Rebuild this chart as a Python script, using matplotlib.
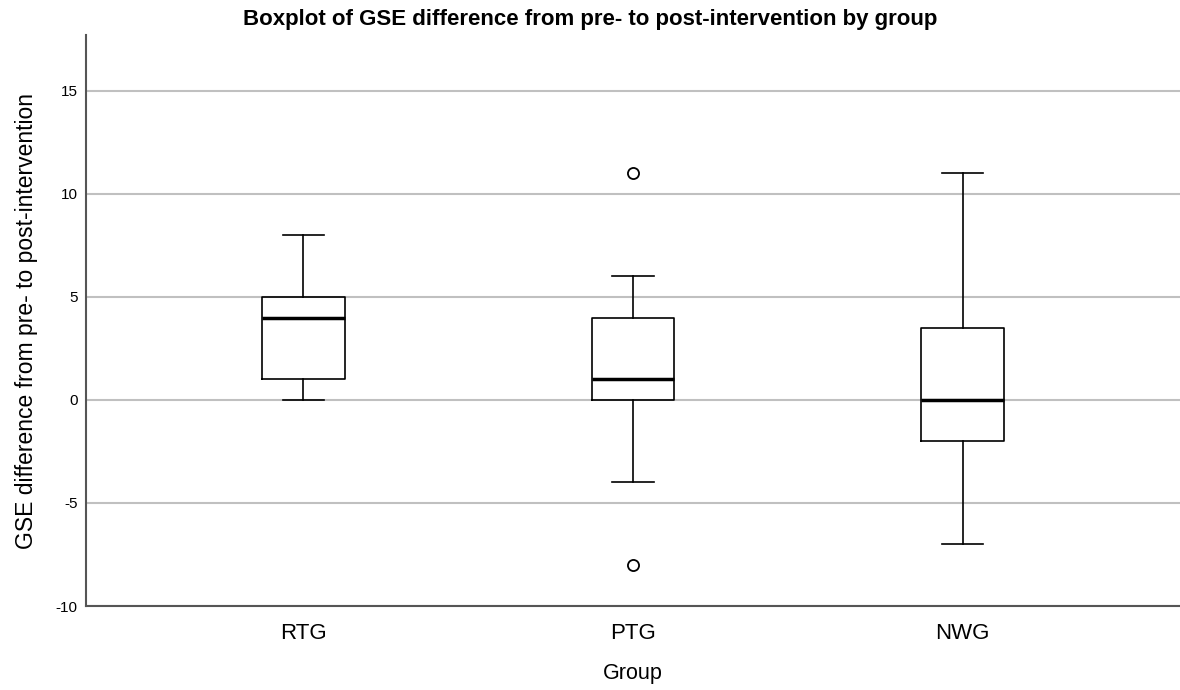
import matplotlib
matplotlib.use("Agg")
import matplotlib.pyplot as plt

plt.rcParams['font.family'] = ['Liberation Sans', 'DejaVu Sans']

groups = ["RTG", "PTG", "NWG"]
whislo = [0, -4, -7]
q1 = [1, 0, -2]
med = [4, 1, 0]
q3 = [5, 4, 3.5]
whishi = [8, 6, 11]
fliers = [[], [11, -8], []]
yticks = [-10, -5, 0, 5, 10, 15]

stats = []
for i, g in enumerate(groups):
    stats.append(dict(label=g, whislo=whislo[i], q1=q1[i], med=med[i],
                      q3=q3[i], whishi=whishi[i], fliers=fliers[i]))

fig = plt.figure(figsize=(11.8, 6.9), dpi=100)
ax = fig.add_axes([0.0729, 0.1217, 0.9271, 0.8273])

ax.bxp(stats, positions=[1, 2, 3], widths=0.25, patch_artist=False,
       boxprops=dict(color='black', linewidth=1.2),
       whiskerprops=dict(color='black', linewidth=1.2),
       capprops=dict(color='black', linewidth=1.2),
       capwidths=0.125,
       medianprops=dict(color='black', linewidth=2.5),
       flierprops=dict(marker='o', markerfacecolor='white', markeredgecolor='black',
                       markersize=8, markeredgewidth=1.3))

ax.set_xlim(0.34, 3.66)
ax.set_ylim(-10, 17.7)
ax.set_yticks(yticks)
ax.set_yticklabels([str(t) for t in yticks], fontsize=11)
ax.set_xticks([1, 2, 3])
ax.set_xticklabels(groups, fontsize=16)
ax.tick_params(axis='x', length=0, pad=12)
ax.tick_params(axis='y', length=0, pad=6)
ax.yaxis.grid(True, color='#c0c0c0', linewidth=1.5)
ax.set_axisbelow(True)
for s in ['top', 'right']:
    ax.spines[s].set_visible(False)
for s in ['left', 'bottom']:
    ax.spines[s].set_color('#555555')
    ax.spines[s].set_linewidth(1.5)

ax.set_xlabel("Group", fontsize=15.5, labelpad=14)
ax.set_ylabel("GSE difference from pre- to post-intervention", fontsize=16.5, labelpad=13)
fig.text(0.5, 0.972, "Boxplot of GSE difference from pre- to post-intervention by group",
         ha='center', va='center', fontsize=16, fontweight='bold')

fig.savefig("out.png", dpi=100)
